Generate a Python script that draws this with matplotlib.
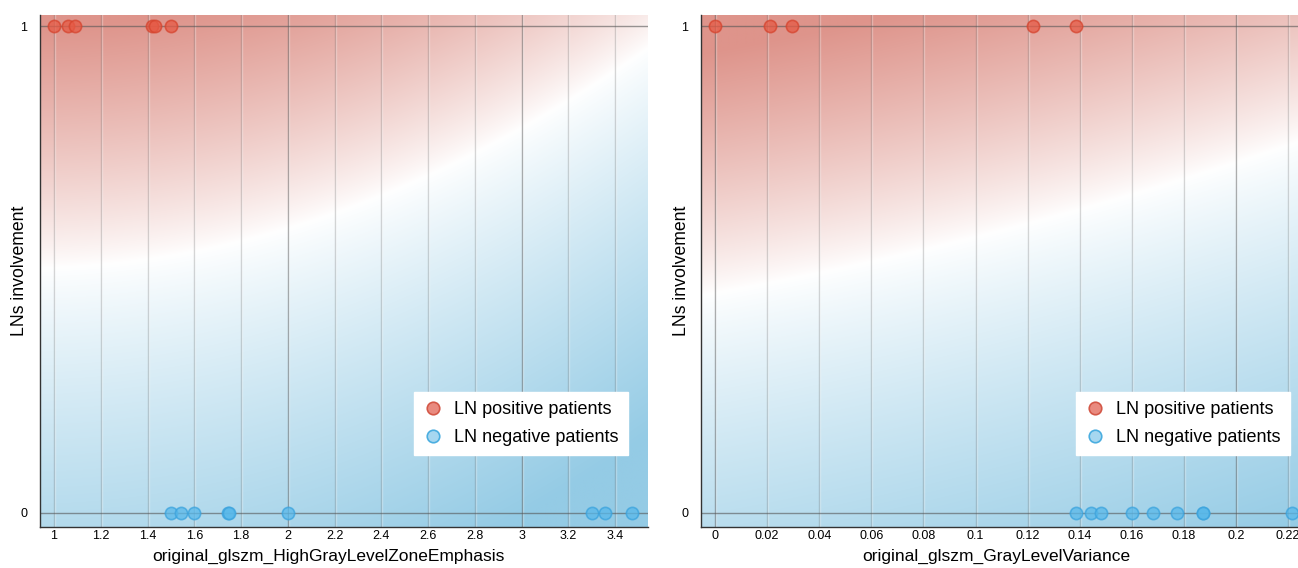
import numpy as np
import matplotlib.pyplot as plt
from matplotlib.lines import Line2D
from matplotlib.colors import to_rgb
import matplotlib.transforms as mtransforms

# ---- data ----
hglze_pos = [1.00, 1.06, 1.09, 1.42, 1.43, 1.50]
hglze_neg = [1.50, 1.543, 1.598, 1.745, 1.75, 2.00, 3.30, 3.355, 3.47]
glv_pos = [0.000, 0.0211, 0.0296, 0.122, 0.1386]
glv_neg = [0.1386, 0.1443, 0.148, 0.160, 0.168, 0.1774, 0.1873, 0.1875, 0.2215]

hglze_ticks = [1, 1.2, 1.4, 1.6, 1.8, 2, 2.2, 2.4, 2.6, 2.8, 3, 3.2, 3.4]
hglze_major = [2, 3]
glv_ticks = [0, 0.02, 0.04, 0.06, 0.08, 0.1, 0.12, 0.14, 0.16, 0.18, 0.2, 0.22]
glv_major = [0, 0.2]

names = ["original_glszm_HighGrayLevelZoneEmphasis", "original_glszm_GrayLevelVariance"]
legend_labels = ["LN positive patients", "LN negative patients"]

# white band of the background: y = a + b*(x - x0) + c*(x - x0)**2
band_left = (0.94, 0.503, 0.011, 0.0626)
band_right = (0.0, 0.452, 0.96, 1.905)

plt.rcParams['font.family'] = ['Liberation Sans', 'DejaVu Sans']

RED = np.array(to_rgb('#DE948B'))
BLUE = np.array(to_rgb('#94CBE5'))
WHITE = np.ones(3)


def background(ax, xlim, ylim, band):
    xs = np.linspace(xlim[0], xlim[1], 400)
    ys = np.linspace(ylim[0], ylim[1], 400)
    X, Y = np.meshgrid(xs, ys)
    x0, a, b, c = band
    u = X - x0
    d = Y - (a + b * u + c * u ** 2)
    tr = np.clip(d / 0.5, 0, 1) ** 0.85
    tb = np.clip(-d / 0.8, 0, 1) ** 0.85
    tr, tb = tr[..., None], tb[..., None]
    img = WHITE * (1 - tr - tb) + RED * tr + BLUE * tb
    ax.imshow(img, extent=[xlim[0], xlim[1], ylim[0], ylim[1]], origin='lower',
              aspect='auto', interpolation='bilinear', zorder=0)


def panel(ax, pos, neg, ticks, major, xlim, band, label, label_x, leg_x):
    ylim = (-0.029, 1.023)
    background(ax, xlim, ylim, band)
    vtrans = mtransforms.blended_transform_factory(ax.transData, ax.transAxes)
    shift = mtransforms.offset_copy(vtrans, fig=ax.figure, x=1, y=0, units='dots')
    for t in ticks:
        a = 0.5 if t in major else 0.25
        ax.plot([t, t], [0, 1], color='#555555', alpha=a, lw=1, zorder=1, transform=vtrans)
        ax.plot([t, t], [0, 1], color='white', alpha=0.3, lw=1, zorder=1, transform=shift)
    for yv in (0, 1):
        ax.axhline(yv, color='#555555', alpha=0.6, lw=1, zorder=1)

    ax.scatter(pos, [1] * len(pos), s=78, color='#E65A45', alpha=0.75,
               edgecolors='#D6442E', linewidths=1.2, zorder=3)
    ax.scatter(neg, [0] * len(neg), s=78, color='#58B8EA', alpha=0.75,
               edgecolors='#3BA3DD', linewidths=1.2, zorder=3)

    ax.set_xlim(xlim)
    ax.set_ylim(ylim)
    ax.set_xticks(ticks)
    ax.set_xticklabels([f"{t:g}" for t in ticks], fontsize=9)
    ax.set_yticks([0, 1])
    ax.set_yticklabels(['0', '1'], fontsize=9)
    ax.tick_params(axis='x', length=0, pad=2)
    ax.tick_params(axis='y', length=0, pad=9)
    ax.set_xlabel(label, fontsize=12.5)
    ax.xaxis.set_label_coords(label_x, -0.042)
    ax.set_ylabel("LNs involvement", fontsize=12.7)
    ax.yaxis.set_label_coords(-0.019, 0.5)
    for s in ('top', 'right'):
        ax.spines[s].set_visible(False)
    for s in ('left', 'bottom'):
        ax.spines[s].set_color('#333333')
        ax.spines[s].set_linewidth(1)

    handles = [
        Line2D([], [], ls='none', marker='o', ms=9, mfc='#E98A7F', mec='#D45848', mew=1.2),
        Line2D([], [], ls='none', marker='o', ms=9, mfc='#A6D7F0', mec='#4BAEE0', mew=1.2),
    ]
    leg = ax.legend(handles, legend_labels,
                    loc='lower right', bbox_to_anchor=(leg_x, 0.1406), borderaxespad=0,
                    fontsize=13, frameon=True, fancybox=False, framealpha=1,
                    edgecolor='white', handletextpad=0.65, labelspacing=0.6,
                    borderpad=0.5, handlelength=1.1)
    leg.set_zorder(5)


fig = plt.figure(figsize=(12.98, 5.68), dpi=100)
ax1 = fig.add_axes([40 / 1298, 1 - 527 / 568, 608 / 1298, 512 / 568])
ax2 = fig.add_axes([701 / 1298, 1 - 527 / 568, 597 / 1298, 512 / 568])

panel(ax1, hglze_pos, hglze_neg, hglze_ticks, hglze_major, (0.94, 3.54), band_left,
      names[0], 0.474, 0.967)
panel(ax2, glv_pos, glv_neg, glv_ticks, glv_major, (-0.0054, 0.2238), band_right,
      names[1], 0.494, 0.9866)

fig.savefig("out.png", dpi=100)
